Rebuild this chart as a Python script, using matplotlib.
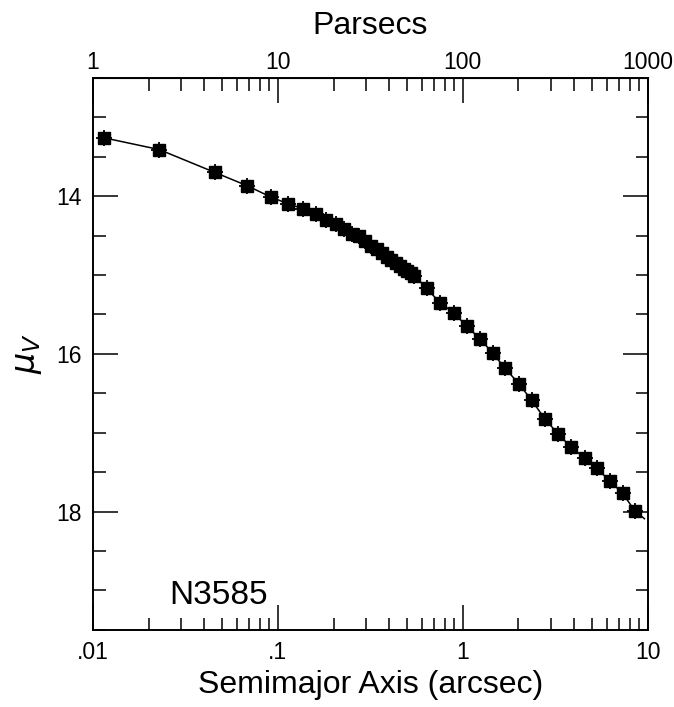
import numpy as np
import matplotlib.pyplot as plt
from matplotlib.ticker import FixedLocator, FixedFormatter, MultipleLocator, LogLocator, NullFormatter

plt.rcParams['font.family'] = ['Liberation Sans', 'DejaVu Sans']

# semimajor axis (arcsec) and surface brightness mu_V (mag/arcsec^2)
radius = [0.0114, 0.0228, 0.0456, 0.0684, 0.0912, 0.114, 0.137, 0.160, 0.182, 0.205,
          0.228, 0.251, 0.274, 0.297, 0.320, 0.342, 0.365, 0.388, 0.411, 0.434,
          0.456, 0.479, 0.502, 0.525, 0.547, 0.638, 0.751, 0.894, 1.05, 1.24,
          1.45, 1.69, 2.01, 2.36, 2.77, 3.26, 3.84, 4.56, 5.30, 6.23,
          7.33, 8.51]
mu_v = [13.26, 13.41, 13.70, 13.87, 14.01, 14.10, 14.16, 14.23, 14.30, 14.36,
        14.42, 14.48, 14.51, 14.57, 14.63, 14.67, 14.72, 14.77, 14.81, 14.85,
        14.88, 14.92, 14.95, 14.98, 15.01, 15.17, 15.35, 15.48, 15.65, 15.81,
        15.99, 16.18, 16.38, 16.59, 16.82, 17.01, 17.18, 17.32, 17.45, 17.61,
        17.77, 17.99]

# model curve goes a bit past the last point
fit_r = radius + [9.6]
fit_mu = mu_v + [18.09]

pc_per_arcsec = 100.0

fig = plt.figure(figsize=(6.74, 7.07), dpi=100)
ax = fig.add_axes([0.138, 0.109, 0.823, 0.781])

ax.plot(fit_r, fit_mu, color='black', lw=1.1, zorder=2)
ax.plot(radius, mu_v, 's', color='black', ms=8.5, zorder=3)
ax.plot(radius, mu_v, '+', color='black', ms=12, mew=1.3, zorder=3)

ax.set_xscale('log')
ax.set_xlim(0.01, 10)
ax.set_ylim(19.5, 12.5)

ax.xaxis.set_major_locator(FixedLocator([0.01, 0.1, 1, 10]))
ax.xaxis.set_major_formatter(FixedFormatter(['.01', '.1', '1', '10']))
ax.xaxis.set_minor_locator(LogLocator(base=10, subs=np.arange(2, 10)))
ax.xaxis.set_minor_formatter(NullFormatter())
ax.yaxis.set_major_locator(FixedLocator([14, 16, 18]))
ax.yaxis.set_minor_locator(MultipleLocator(0.5))

ax.tick_params(which='both', direction='in', top=False, right=True, width=1.1, labelsize=16.5)
ax.tick_params(which='major', length=18, pad=8)
ax.tick_params(which='minor', length=9)
for s in ax.spines.values():
    s.set_linewidth(1.4)

ax.set_xlabel('Semimajor Axis (arcsec)', fontsize=23, labelpad=4)
ax.set_ylabel(r'$\mu_V$', fontsize=24, labelpad=9)

top = ax.secondary_xaxis('top', functions=(lambda x: x * pc_per_arcsec, lambda x: x / pc_per_arcsec))
top.xaxis.set_major_locator(FixedLocator([1, 10, 100, 1000]))
top.xaxis.set_major_formatter(FixedFormatter(['1', '10', '100', '1000']))
top.xaxis.set_minor_locator(LogLocator(base=10, subs=np.arange(2, 10)))
top.xaxis.set_minor_formatter(NullFormatter())
top.tick_params(which='both', direction='in', width=1.1, labelsize=16.5)
top.tick_params(which='major', length=18, pad=3)
top.tick_params(which='minor', length=9)
top.set_xlabel('Parsecs', fontsize=23, labelpad=12)

ax.text(0.0258, 19.17, 'N3585', fontsize=24, ha='left', va='baseline')

fig.savefig('out.png', dpi=100)
